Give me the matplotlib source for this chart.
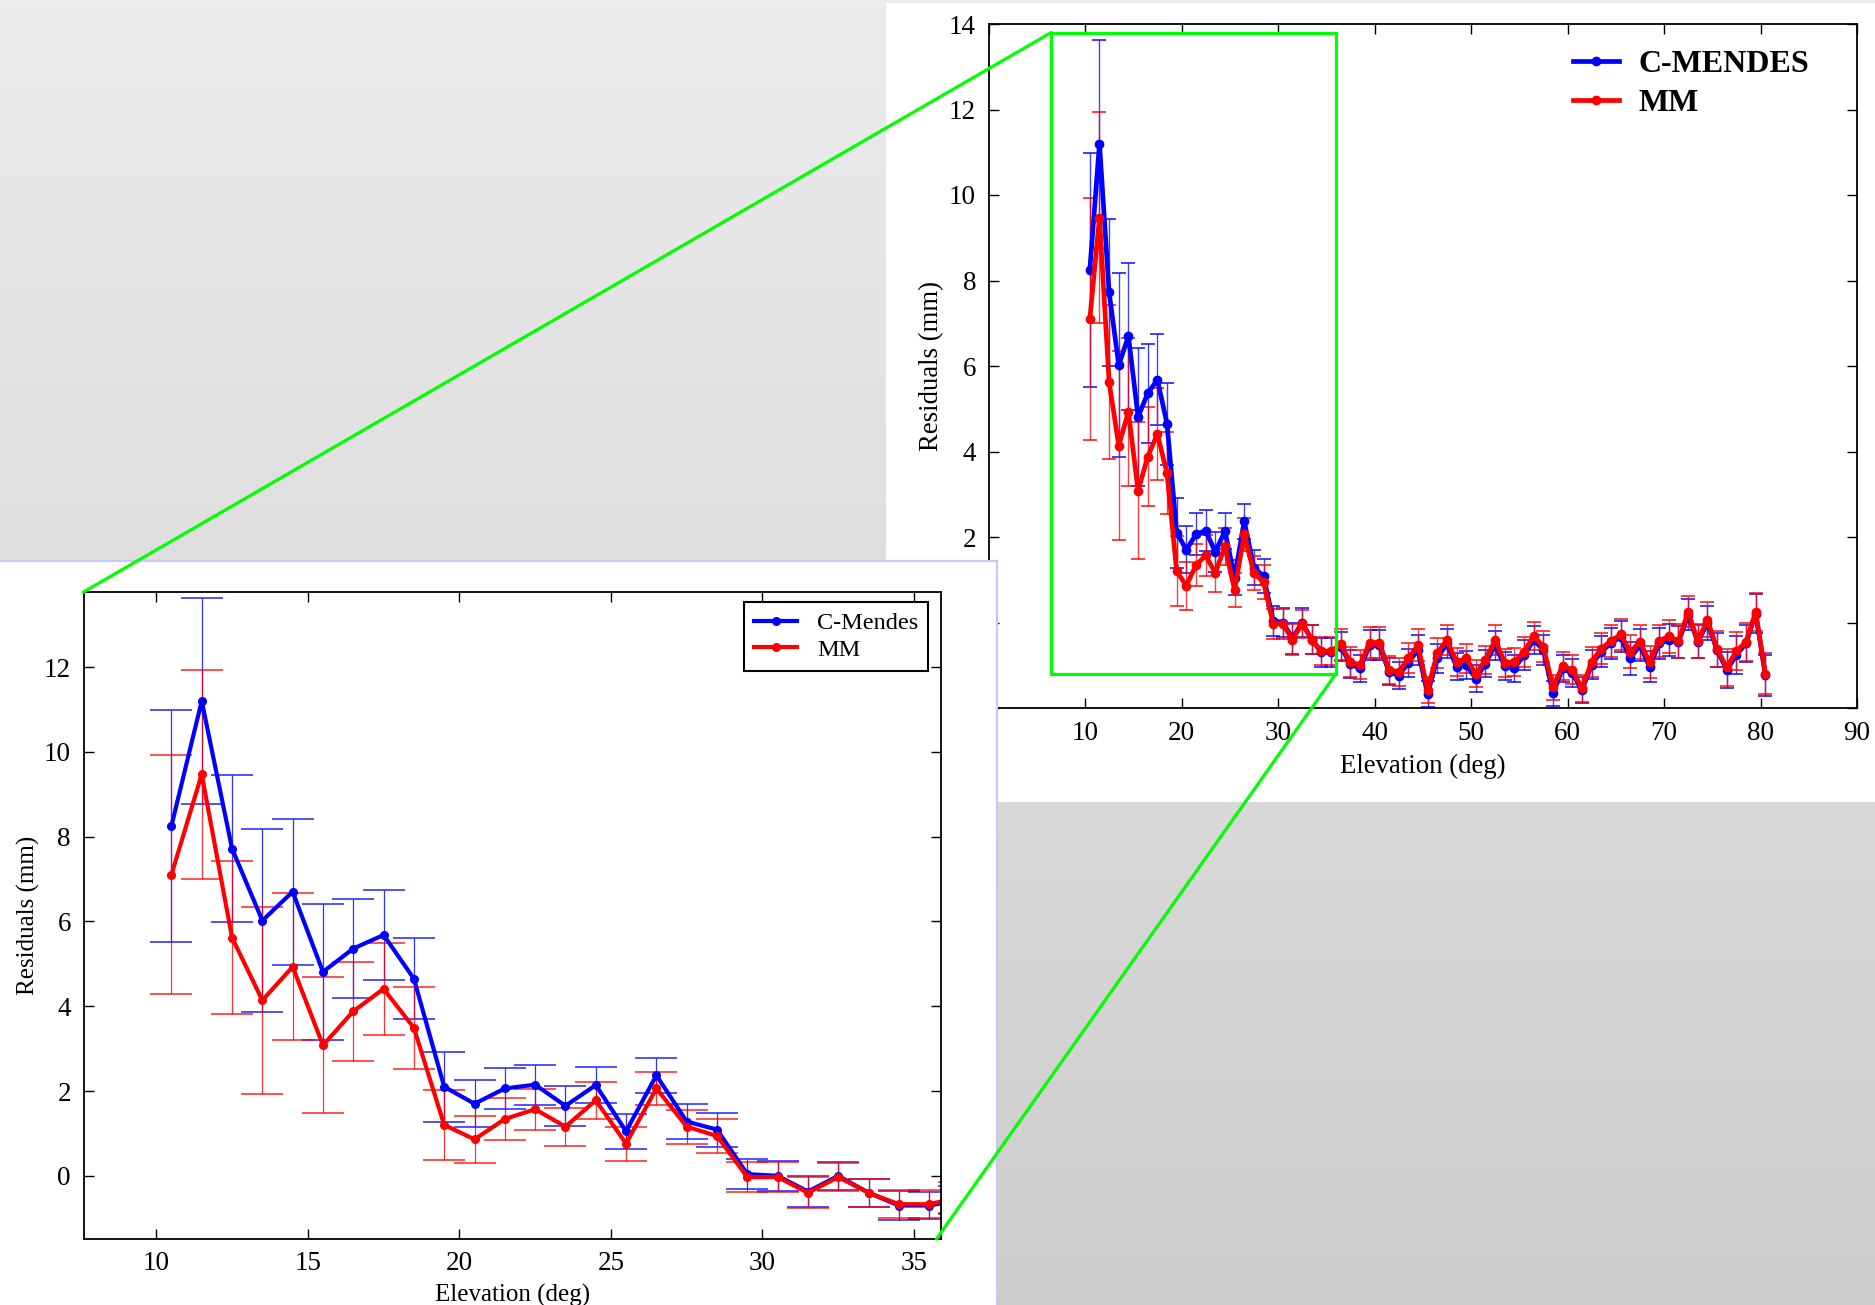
import numpy as np
import matplotlib
matplotlib.use('Agg')
import matplotlib.pyplot as plt
from matplotlib.patches import Rectangle, ConnectionPatch

plt.rcParams['font.family'] = ['Liberation Serif', 'DejaVu Serif']

# elevation bins (deg)
elev = np.arange(10.5, 81.0, 1.0)

cmendes = [8.25, 11.2, 7.72, 6.02, 6.70, 4.81, 5.36, 5.68, 4.65, 2.10, 1.70, 2.06, 2.15,
           1.65, 2.14, 1.05, 2.37, 1.28, 1.09, 0.04, 0.00, -0.37, 0.00, -0.40, -0.70, -0.70,
           -0.57, -0.97, -1.07, -0.53, -0.53, -1.15, -1.24, -0.94, -0.64, -1.67, -0.84, -0.49,
           -1.03, -0.99, -1.31, -0.96, -0.53, -1.02, -1.07, -0.76, -0.41, -0.64,
           -1.66, -1.07, -1.19, -1.58, -0.99, -0.68, -0.49, -0.33, -0.84, -0.53,
           -1.03, -0.49, -0.41, -0.46, 0.18, -0.45, -0.02, -0.64, -1.11, -0.76,
           -0.49, 0.21, -1.23]
cmendes_err = [2.73, 2.43, 1.73, 2.16, 1.72, 1.61, 1.16, 1.07, 0.96, 0.82, 0.55, 0.49, 0.47,
               0.47, 0.42, 0.41, 0.41, 0.41, 0.40, 0.35, 0.35, 0.36, 0.33, 0.33, 0.34, 0.33,
               0.34, 0.33, 0.32, 0.35, 0.35, 0.32, 0.32, 0.33, 0.35, 0.30, 0.33, 0.34,
               0.32, 0.32, 0.31, 0.32, 0.34, 0.32, 0.32, 0.34, 0.33, 0.35,
               0.30, 0.32, 0.33, 0.31, 0.34, 0.36, 0.37, 0.37, 0.38, 0.38,
               0.36, 0.37, 0.38, 0.38, 0.36, 0.38, 0.40, 0.40, 0.43, 0.44,
               0.43, 0.45, 0.48]

mm = [7.10, 9.47, 5.62, 4.14, 4.93, 3.08, 3.88, 4.41, 3.49, 1.20, 0.86, 1.34, 1.57,
      1.16, 1.78, 0.76, 2.06, 1.16, 0.94, -0.03, -0.03, -0.40, -0.03, -0.40, -0.67, -0.67,
      -0.51, -0.93, -0.99, -0.47, -0.47, -1.11, -1.15, -0.84, -0.53, -1.58, -0.72, -0.41,
      -0.92, -0.84, -1.20, -0.88, -0.41, -0.94, -0.92, -0.68, -0.31, -0.57,
      -1.52, -1.01, -1.11, -1.54, -0.92, -0.61, -0.43, -0.28, -0.68, -0.46,
      -0.92, -0.43, -0.32, -0.43, 0.25, -0.43, 0.06, -0.62, -1.05, -0.67,
      -0.45, 0.25, -1.20]
mm_err = [2.82, 2.47, 1.80, 2.20, 1.73, 1.60, 1.16, 1.08, 0.96, 0.82, 0.56, 0.49, 0.48,
          0.45, 0.43, 0.40, 0.39, 0.40, 0.40, 0.35, 0.35, 0.37, 0.33, 0.33, 0.33, 0.33,
          0.36, 0.35, 0.34, 0.36, 0.36, 0.33, 0.33, 0.35, 0.37, 0.31, 0.35, 0.36,
          0.33, 0.33, 0.32, 0.33, 0.36, 0.33, 0.33, 0.35, 0.33, 0.36,
          0.30, 0.33, 0.34, 0.31, 0.35, 0.37, 0.38, 0.37, 0.38, 0.39,
          0.37, 0.38, 0.39, 0.39, 0.36, 0.39, 0.41, 0.41, 0.44, 0.45,
          0.44, 0.45, 0.48]

# zoom window shown in the inset
zoom_x = (6.5, 36.0)
zoom_y = (-1.2, 13.8)

W, H = 1875, 1305
fig = plt.figure(figsize=(W / 100, H / 100), dpi=100)

def box(x0, y0, x1, y1):
    # pixel box (top-left origin) -> figure fraction rect
    return [x0 / W, 1 - y1 / H, (x1 - x0) / W, (y1 - y0) / H]

# gray gradient background
bg = fig.add_axes([0, 0, 1, 1], zorder=-5)
bg.imshow(np.linspace(0.922, 0.80, 200)[:, None], cmap='gray', vmin=0, vmax=1,
          aspect='auto', extent=[0, 1, 0, 1])
bg.set_axis_off()

# white panel behind the main plot
panel = fig.add_axes(box(886, 3, 1875, 802), zorder=1)
panel.set_facecolor('white')
panel.set_xticks([])
panel.set_yticks([])
for s in panel.spines.values():
    s.set_visible(False)

# main plot
ax = fig.add_axes(box(988.5, 24, 1857, 708), zorder=2)
ax.errorbar(elev, cmendes, yerr=cmendes_err, fmt='none', ecolor='blue', elinewidth=1.0,
            capsize=5, capthick=1.4, alpha=0.75)
ax.errorbar(elev, mm, yerr=mm_err, fmt='none', ecolor='red', elinewidth=1.0,
            capsize=5, capthick=1.4, alpha=0.75)
ax.plot(elev, cmendes, '-o', color='blue', lw=3.4, ms=6, label='C-MENDES')
ax.plot(elev, mm, '-o', color='red', lw=3.4, ms=6, label='MM')
ax.set_xlim(0, 90)
ax.set_ylim(-2, 14)
ax.set_xticks(range(0, 91, 10))
ax.set_yticks(range(-2, 15, 2))
ax.tick_params(direction='in', top=True, right=True, length=7, width=1,
               labelsize=19.5, pad=9)
for s in ax.spines.values():
    s.set_linewidth(1.3)
ax.set_xlabel('Elevation (deg)', fontsize=19.3, labelpad=6)
ax.set_ylabel('Residuals (mm)', fontsize=19.3, labelpad=2)
ax.legend(loc='upper left', bbox_to_anchor=(0.673, 0.962), frameon=False,
          prop={'size': 23, 'weight': 'bold'}, handlelength=1.45, numpoints=1,
          borderpad=0, borderaxespad=0, labelspacing=0.3, handletextpad=0.6)
ax.add_patch(Rectangle((zoom_x[0], zoom_y[0]), zoom_x[1] - zoom_x[0], zoom_y[1] - zoom_y[0],
                       fill=False, edgecolor='#00ff00', lw=2.3, zorder=10))

# white panel behind the inset
ipanel = fig.add_axes(box(0, 561, 997, 1305), zorder=3)
ipanel.set_facecolor('white')
ipanel.set_xticks([])
ipanel.set_yticks([])
for k, s in ipanel.spines.items():
    s.set_visible(k in ('top', 'right'))
    s.set_color('#c8c8f5')
    s.set_linewidth(1.6)

# inset plot
n = 27
axin = fig.add_axes(box(83.5, 592, 940.7, 1239), zorder=4)
axin.errorbar(elev[:n], cmendes[:n], yerr=cmendes_err[:n], fmt='none', ecolor='blue',
              elinewidth=0.9, capsize=15, capthick=1.2, alpha=0.8)
axin.errorbar(elev[:n], mm[:n], yerr=mm_err[:n], fmt='none', ecolor='red',
              elinewidth=0.9, capsize=15, capthick=1.2, alpha=0.8)
axin.plot(elev[:n], cmendes[:n], '-o', color='blue', lw=3.0, ms=5.5, label='C-Mendes')
axin.plot(elev[:n], mm[:n], '-o', color='red', lw=3.0, ms=5.5, label='MM')
axin.set_xlim(7.6, 35.88)
axin.set_ylim(-1.49, 13.77)
axin.set_xticks(range(10, 36, 5))
axin.set_yticks(range(0, 13, 2))
axin.tick_params(direction='in', top=True, right=True, length=7, width=1,
                 labelsize=19.5, pad=9)
for s in axin.spines.values():
    s.set_linewidth(1.3)
axin.set_xlabel('Elevation (deg)', fontsize=18, labelpad=5)
axin.set_ylabel('Residuals (mm)', fontsize=18, labelpad=3)
leg = axin.legend(loc='upper right', bbox_to_anchor=(0.985, 0.984), fancybox=False,
                  edgecolor='black', framealpha=1, fontsize=17.5, handlelength=1.8,
                  numpoints=1, borderaxespad=0, labelspacing=0.2, handletextpad=0.8)
leg.get_frame().set_linewidth(1.5)

# green connector lines
for xyA, xyB in [((zoom_x[0], zoom_y[1]), (0, 1)), ((zoom_x[1], zoom_y[0]), (0.995, 0))]:
    con = ConnectionPatch(xyA=xyA, coordsA=ax.transData, xyB=xyB, coordsB=axin.transAxes,
                          color='#00ff00', lw=2.3, zorder=20)
    fig.add_artist(con)

fig.savefig('out.png', dpi=100)
